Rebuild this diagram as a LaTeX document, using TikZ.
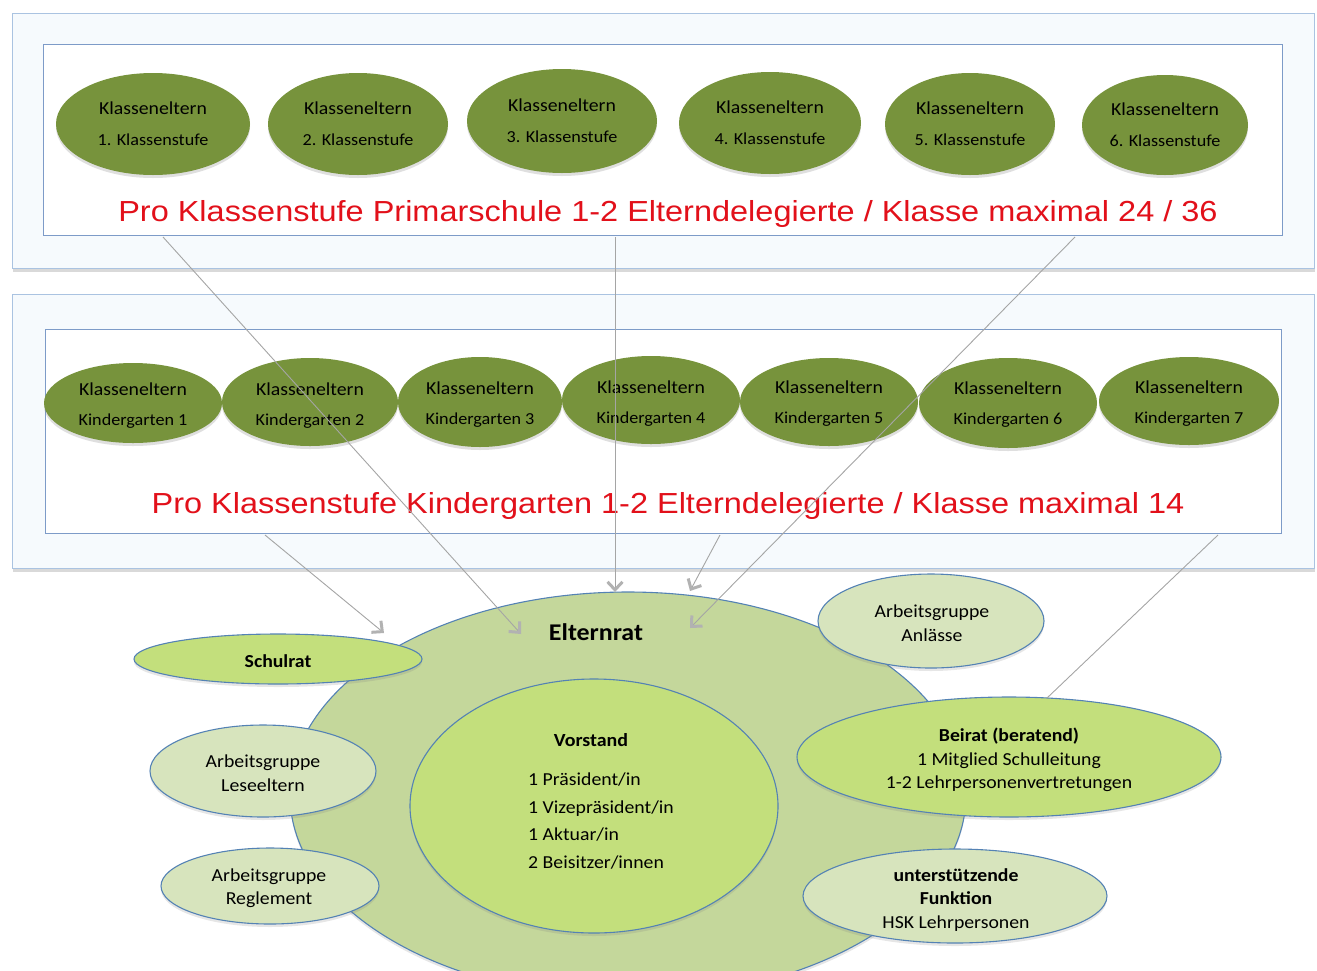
\documentclass[tikz,border=0pt]{standalone}
\usepackage{fontspec}
\setmainfont{Carlito}
\newfontfamily\calf[FakeStretch=1.08]{Carlito}
\newfontfamily\arif[FakeStretch=1.12]{Liberation Sans}
\usetikzlibrary{shapes.geometric,arrows.meta,shadows}
\definecolor{olivedark}{RGB}{119,147,60}
\definecolor{ergreen}{RGB}{196,215,155}
\definecolor{brightgreen}{RGB}{195,223,124}
\definecolor{palegreen}{RGB}{215,228,189}
\definecolor{ellline}{RGB}{84,130,180}
\definecolor{boxline}{RGB}{170,195,225}
\definecolor{inboxline}{RGB}{125,155,200}
\definecolor{boxfill}{RGB}{246,250,253}
\definecolor{redtext}{RGB}{226,16,26}
\definecolor{linegray}{RGB}{165,165,165}
\definecolor{tipgray}{RGB}{178,178,178}
\begin{document}
\begin{tikzpicture}[x=1pt,y=-1pt,
  outerbox/.style={draw=boxline, fill=boxfill, line width=1pt, anchor=north west, inner sep=0pt,
    drop shadow={shadow xshift=0pt, shadow yshift=-3pt, opacity=0.3}},
  innerbox/.style={draw=inboxline, fill=white, line width=1pt, anchor=north west, inner sep=0pt},
  kl/.style={ellipse, fill=olivedark, inner sep=0pt,
    drop shadow={shadow xshift=0pt, shadow yshift=-3pt, opacity=0.25}},
  kltxt/.style={align=center, inner sep=0pt, font=\calf\fontsize{18.3}{31}\selectfont},
  kgtxt/.style={align=center, inner sep=0pt, font=\calf\fontsize{18.3}{30}\selectfont},
  redtxt/.style={inner sep=0pt, anchor=base, text=redtext, font=\arif\fontsize{29}{34}\selectfont},
  lowell/.style={ellipse, draw=ellline, line width=1.1pt, inner sep=0pt,
    drop shadow={shadow xshift=0pt, shadow yshift=-3pt, opacity=0.2}},
  txt/.style={align=center, inner sep=0pt, font=\calf\fontsize{18.3}{24}\selectfont},
  conn/.style={draw=linegray, line width=0.9pt},
  arr/.style={conn, -{Straight Barb[length=8pt,width=15pt,line width=3pt,color=tipgray]}}
]
\useasboundingbox (0,0) rectangle (1317,970);

% --- Primarschule box ---
\node[outerbox, minimum width=1302pt, minimum height=255pt] (ob1) at (12,13) {};
\node[innerbox, minimum width=1239pt, minimum height=191pt] (ib1) at (43,44) {};

\node[kl, minimum width=194pt, minimum height=102pt] (p1) at (153,124) {};
\node[kl, minimum width=180pt, minimum height=102pt] (p2) at (358,124) {};
\node[kl, minimum width=190pt, minimum height=104pt] (p3) at (562,121) {};
\node[kl, minimum width=182pt, minimum height=102pt] (p4) at (770,123) {};
\node[kl, minimum width=170pt, minimum height=102pt] (p5) at (970,124) {};
\node[kl, minimum width=166pt, minimum height=100pt] (p6) at (1165,125) {};
\node[kltxt] (p1t) at (p1) {Klasseneltern\\\fontsize{16.8}{31}\selectfont 1. Klassenstufe};
\node[kltxt] (p2t) at (p2) {Klasseneltern\\\fontsize{16.8}{31}\selectfont 2. Klassenstufe};
\node[kltxt] (p3t) at (p3) {Klasseneltern\\\fontsize{16.8}{31}\selectfont 3. Klassenstufe};
\node[kltxt] (p4t) at (p4) {Klasseneltern\\\fontsize{16.8}{31}\selectfont 4. Klassenstufe};
\node[kltxt] (p5t) at (p5) {Klasseneltern\\\fontsize{16.8}{31}\selectfont 5. Klassenstufe};
\node[kltxt] (p6t) at (p6) {Klasseneltern\\\fontsize{16.8}{31}\selectfont 6. Klassenstufe};

\node[redtxt] (r1) at (668,221) {Pro Klassenstufe Primarschule 1-2 Elterndelegierte / Klasse maximal 24 / 36};

% --- Kindergarten box ---
\node[outerbox, minimum width=1302pt, minimum height=274pt] (ob2) at (12,294) {};
\node[innerbox, minimum width=1236pt, minimum height=204pt] (ib2) at (45,329) {};

\node[kl, minimum width=178pt, minimum height=80pt] (k1) at (133,403) {};
\node[kl, minimum width=176pt, minimum height=88pt] (k2) at (310,402) {};
\node[kl, minimum width=164pt, minimum height=90pt] (k3) at (480,402) {};
\node[kl, minimum width=178pt, minimum height=88pt] (k4) at (651,400) {};
\node[kl, minimum width=178pt, minimum height=88pt] (k5) at (829,402) {};
\node[kl, minimum width=178pt, minimum height=90pt] (k6) at (1008,403) {};
\node[kl, minimum width=180pt, minimum height=88pt] (k7) at (1189,401) {};
\node[kgtxt] (k1t) at (133,406) {Klasseneltern\\\fontsize{16.8}{30}\selectfont Kindergarten 1};
\node[kgtxt] (k2t) at (310,406) {Klasseneltern\\\fontsize{16.8}{30}\selectfont Kindergarten 2};
\node[kgtxt] (k3t) at (480,405) {Klasseneltern\\\fontsize{16.8}{30}\selectfont Kindergarten 3};
\node[kgtxt] (k4t) at (651,404) {Klasseneltern\\\fontsize{16.8}{30}\selectfont Kindergarten 4};
\node[kgtxt] (k5t) at (829,404) {Klasseneltern\\\fontsize{16.8}{30}\selectfont Kindergarten 5};
\node[kgtxt] (k6t) at (1008,405) {Klasseneltern\\\fontsize{16.8}{30}\selectfont Kindergarten 6};
\node[kgtxt] (k7t) at (1189,404) {Klasseneltern\\\fontsize{16.8}{30}\selectfont Kindergarten 7};

\node[redtxt] (r2) at (668,513) {Pro Klassenstufe Kindergarten 1-2 Elterndelegierte / Klasse maximal 14};

% --- Elternrat ---
\node[lowell, fill=ergreen, minimum width=676pt, minimum height=406pt] (er) at (628,795) {};
\node[lowell, fill=brightgreen, minimum width=368pt, minimum height=254pt] (vs) at (594,806) {};
\node[lowell, fill=brightgreen, minimum width=288pt, minimum height=50pt] (sr) at (278,659) {};
\node[lowell, fill=palegreen, minimum width=226pt, minimum height=92pt] (al) at (263,771) {};
\node[lowell, fill=palegreen, minimum width=218pt, minimum height=76pt] (ar) at (270,886) {};
\node[lowell, fill=palegreen, minimum width=226pt, minimum height=94pt] (aa) at (931,621) {};
\node[lowell, fill=brightgreen, minimum width=424pt, minimum height=120pt] (bei) at (1009,757) {};
\node[lowell, fill=palegreen, minimum width=304pt, minimum height=94pt] (uf) at (955,896) {};

\node[txt, font=\calf\bfseries\fontsize{24}{28}\selectfont] (ert) at (596,632) {Elternrat};
\node[txt, font=\calf\bfseries\fontsize{18.5}{23}\selectfont] (vst) at (591,740) {Vorstand};
\node[txt, align=left, anchor=west, font=\calf\fontsize{18.3}{27.7}\selectfont] (vsl) at (528,821)
  {1 Präsident/in\\1 Vizepräsident/in\\1 Aktuar/in\\2 Beisitzer/innen};
\node[txt, font=\calf\bfseries\fontsize{18.3}{24}\selectfont] (srt) at (278,661) {Schulrat};
\node[txt] (alt) at (263,773) {Arbeitsgruppe\\Leseeltern};
\node[txt, font=\calf\fontsize{18.3}{23}\selectfont] (art) at (269,888) {Arbeitsgruppe\\Reglement};
\node[txt] (aat) at (932,623) {Arbeitsgruppe\\Anlässe};
\node[txt, font=\calf\fontsize{18.3}{23.3}\selectfont] (beit) at (1009,760)
  {\textbf{Beirat (beratend)}\\1 Mitglied Schulleitung\\1-2 Lehrpersonenvertretungen};
\node[txt, font=\calf\fontsize{18.3}{23.3}\selectfont] (uft) at (956,900)
  {\textbf{unterstützende}\\\textbf{Funktion}\\HSK Lehrpersonen};

% --- connectors ---
\coordinate (s1) at (163,237);  \coordinate (e1) at (521,634);
\coordinate (s2) at (615,237);  \coordinate (e2) at (615,592);
\coordinate (s3) at (1075,237); \coordinate (e3) at (690,628);
\coordinate (s4) at (265,535);  \coordinate (e4) at (384,633);
\coordinate (s5) at (720,535);  \coordinate (e5) at (690,591);
\coordinate (s6) at (1218,535); \coordinate (e6) at (1047,698);
\draw[arr] (s1) -- (e1);
\draw[arr] (s2) -- (e2);
\draw[arr] (s3) -- (e3);
\draw[arr] (s4) -- (e4);
\draw[arr] (s5) -- (e5);
\draw[conn] (s6) -- (e6);
\end{tikzpicture}
\end{document}
